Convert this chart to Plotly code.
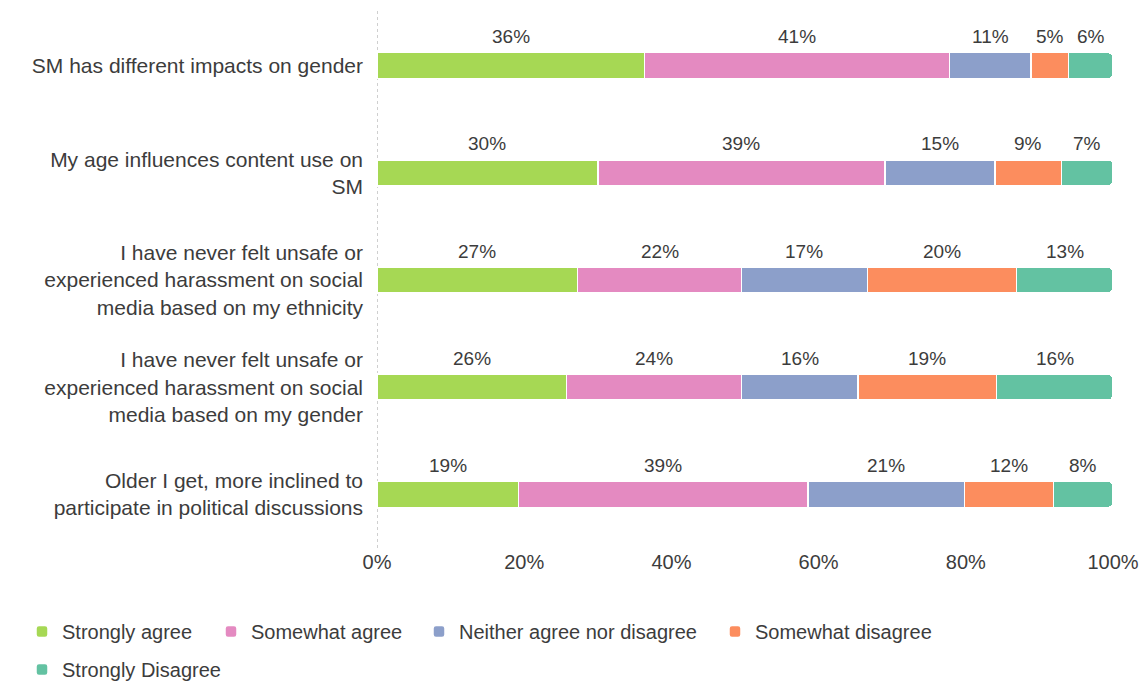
import plotly.graph_objects as go

# Survey statements (top to bottom) and response shares in percent
statements = [
    "SM has different impacts on gender",
    "My age influences content use on<br>SM",
    "I have never felt unsafe or<br>experienced harassment on social<br>media based on my ethnicity",
    "I have never felt unsafe or<br>experienced harassment on social<br>media based on my gender",
    "Older I get, more inclined to<br>participate in political discussions",
]
responses = ["Strongly agree", "Somewhat agree", "Neither agree nor disagree",
             "Somewhat disagree", "Strongly Disagree"]
strongly_agree = [36, 30, 27, 26, 19]
somewhat_agree = [41, 39, 22, 24, 39]
neither = [11, 15, 17, 16, 21]
somewhat_disagree = [5, 9, 20, 19, 12]
strongly_disagree = [6, 7, 13, 16, 8]
colors = ["#a6d854", "#e48ac1", "#8c9fca", "#fc8d5e", "#63c2a2"]
tick_values = [0, 20, 40, 60, 80, 100]
tick_labels = ["0%", "20%", "40%", "60%", "80%", "100%"]

series = [strongly_agree, somewhat_agree, neither, somewhat_disagree, strongly_disagree]

FONT = "Liberation Sans, Arial, sans-serif"
TEXT = "#3c3c3c"
W, H = 1146, 684

# one legend per response so the entries sit on their own columns/rows
legend_names = ["legend", "legend2", "legend3", "legend4", "legend5"]
legend_pos = [(22, 612), (211, 612), (419, 612), (715, 612), (22, 650)]

fig = go.Figure()
for name, vals, col, lg in zip(responses, series, colors, legend_names):
    fig.add_trace(go.Bar(
        y=statements, x=vals, name=name, orientation="h",
        marker=dict(color=col, line=dict(color="white", width=1.5)),
        legend=lg, hoverinfo="skip",
    ))

# Percentage labels centred above each segment (positions follow the normalised stack)
annotations = []
for r, stmt in enumerate(statements):
    row = [s[r] for s in series]
    total = sum(row)
    start = 0.0
    for v in row:
        share = v / total * 100
        annotations.append(dict(
            x=start + share / 2, y=stmt, xref="x", yref="y",
            text=f"{v}%", showarrow=False, yshift=29,
            font=dict(family=FONT, size=19, color=TEXT),
        ))
        start += share

legends = {}
for lg, (px, py) in zip(legend_names, legend_pos):
    legends[lg] = dict(orientation="h", xref="container", yref="container",
                       x=px / W, xanchor="left", y=1 - py / H, yanchor="top",
                       font=dict(family=FONT, size=20, color=TEXT),
                       bgcolor="rgba(0,0,0,0)")

fig.update_layout(
    width=W, height=H,
    margin=dict(l=377, r=33, t=12, b=136),
    plot_bgcolor="white", paper_bgcolor="white",
    barmode="stack", barnorm="percent", bargap=0.757,
    barcornerradius=5,
    font=dict(family=FONT, size=19, color=TEXT),
    annotations=annotations,
    showlegend=True,
    shapes=[dict(type="line", xref="x", yref="paper", x0=0, x1=0, y0=0, y1=1.005,
                 line=dict(color="#cfcfcf", width=2, dash="dot"), layer="below")],
    **legends,
)
fig.update_xaxes(range=[0, 100], tickvals=tick_values, ticktext=tick_labels,
                 showgrid=False, zeroline=False, showline=False, automargin=False,
                 tickfont=dict(family=FONT, size=20, color=TEXT), ticklabelstandoff=0)
fig.update_yaxes(autorange="reversed", showgrid=False, zeroline=False, showline=False,
                 automargin=False,
                 tickfont=dict(family=FONT, size=21, color=TEXT), ticklabelstandoff=13)

fig.write_html("out.html")
